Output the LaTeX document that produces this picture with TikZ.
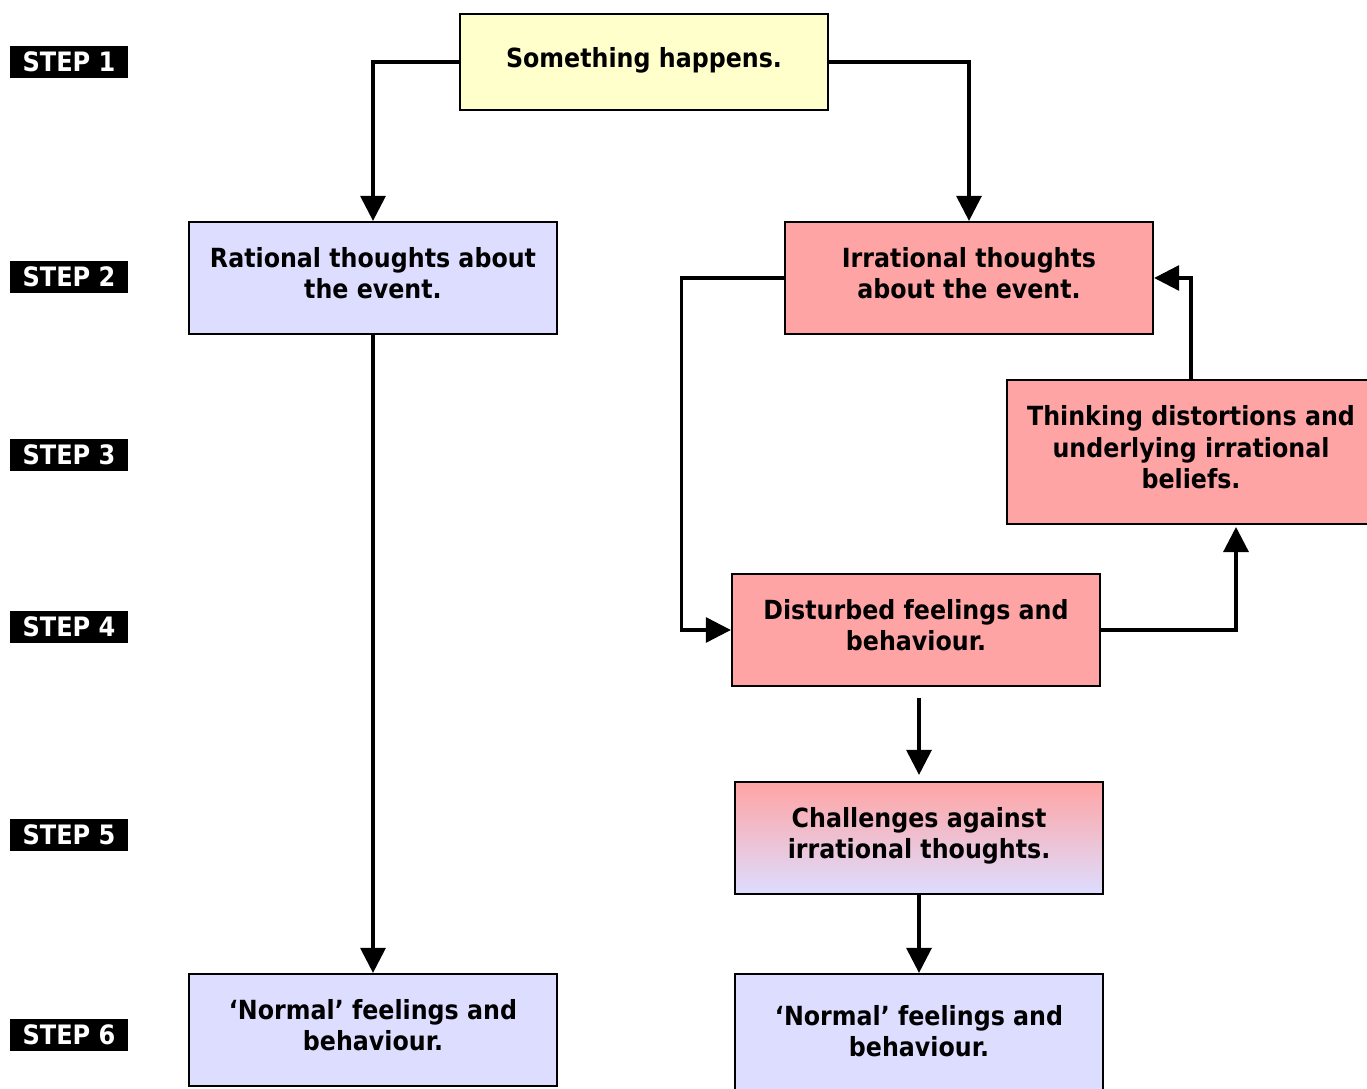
\documentclass[tikz,border=0pt]{standalone}
\usepackage{fontspec}
\setmainfont{DejaVu Sans}[FakeStretch=0.9]
\usepackage{tikz}
\usetikzlibrary{arrows.meta, positioning}

\definecolor{eventyellow}{HTML}{FFFFCC}
\definecolor{calmblue}{HTML}{DDDDFF}
\definecolor{upsetpink}{HTML}{FFA4A4}

\tikzset{
    box/.style={draw=black, line width=0.6pt, minimum width=3.68cm, minimum height=1.12cm,
        align=center, font=\fontsize{7.5}{9}\selectfont\bfseries, inner sep=0pt, text depth=0.1cm},
    steplabel/.style={fill=black, text=white, minimum width=1.17cm, minimum height=0.32cm,
        inner sep=0pt, font=\fontsize{7.6}{9}\selectfont\bfseries},
    flow/.style={line width=0.9pt, -{Triangle[length=0.25cm, width=0.25cm]}},
}

\begin{document}
\begin{tikzpicture}[x=0.01cm, y=-0.01cm]
    \useasboundingbox (0,0) rectangle (1367,1089);
    \clip (0,0) rectangle (1367,1089);

    % Step labels down the left side
    \foreach \n/\ypos in {1/62, 2/277, 3/455, 4/627, 5/835, 6/1035}
        \node[steplabel] (step\n) at (69,\ypos) {STEP \n};

    % The event
    \node[box, fill=eventyellow, minimum height=0.96cm] (event) at (644,62) {Something happens.};

    % Rational branch
    \node[box, fill=calmblue] (rational) at (373,278) {Rational thoughts about\\the event.};
    \node[box, fill=calmblue] (normalL) at (373,1030) {‘Normal’ feelings and\\behaviour.};

    % Irrational branch
    \node[box, fill=upsetpink] (irrational) at (969,278) {Irrational thoughts\\about the event.};
    \node[box, fill=upsetpink, minimum height=1.44cm] (distort) at (1191,452)
        {Thinking distortions and\\underlying irrational\\beliefs.};
    \node[box, fill=upsetpink] (disturbed) at (916,630) {Disturbed feelings and\\behaviour.};
    \node[box, top color=upsetpink, bottom color=calmblue] (challenge) at (919,838)
        {Challenges against\\irrational thoughts.};
    \node[box, fill=calmblue, minimum height=1.24cm] (normalR) at (919,1036)
        {‘Normal’ feelings and\\behaviour.};

    % Connectors
    \draw[flow] (event.west) -| (rational.north);
    \draw[flow] (event.east) -| (irrational.north);
    \draw[flow] (rational) -- (normalL);
    \draw[flow] (irrational.west) -- ++(-102,0) |- (disturbed.west);
    \coordinate (loopup) at (1236,527);
    \draw[flow] (disturbed.east) -| (loopup);
    \draw[flow] (distort.north) |- (irrational.east);
    \draw[flow, shorten <=0.11cm, shorten >=0.06cm] (disturbed.south -| challenge.north) -- (challenge.north);
    \draw[flow] (challenge) -- (normalR);
\end{tikzpicture}
\end{document}
